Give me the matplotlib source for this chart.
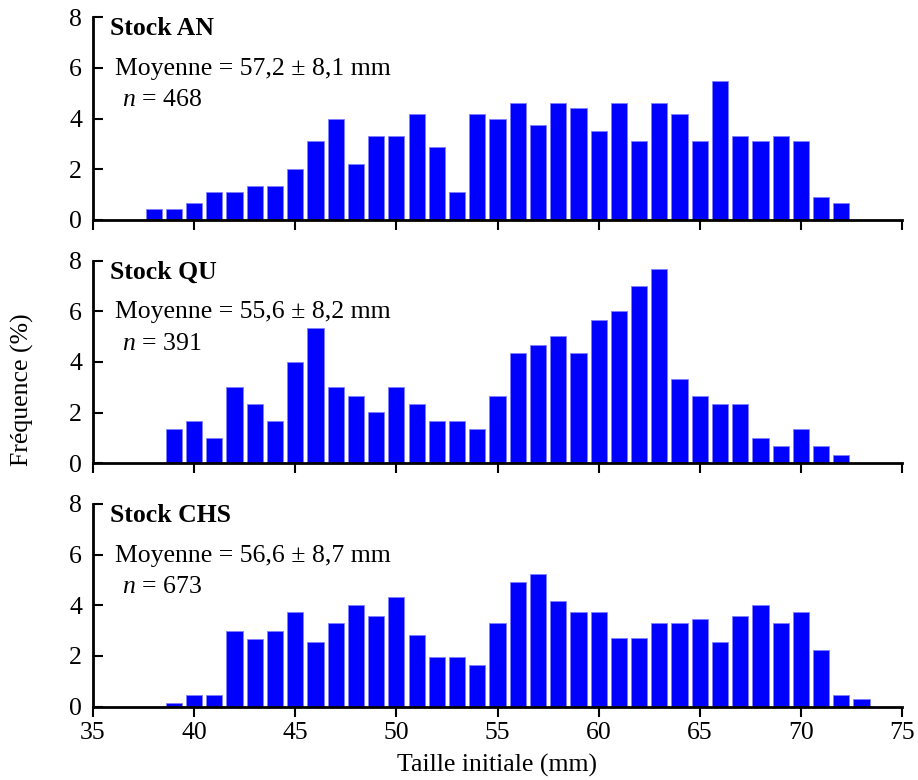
"""
Histogrammes de taille initiale pour trois stocks.
"""
import numpy as np
import matplotlib.pyplot as plt

plt.rcParams['font.family'] = ['Liberation Serif', 'DejaVu Serif']
plt.rcParams['mathtext.fontset'] = 'custom'
plt.rcParams['mathtext.it'] = 'Liberation Serif:italic'
plt.rcParams['mathtext.rm'] = 'Liberation Serif'

sizes_an = np.arange(38, 73)
freq_an = [0.45, 0.45, 0.67, 1.1, 1.1, 1.32, 1.32, 2.0, 3.1, 3.97, 2.2, 3.3,
           3.3, 4.18, 2.87, 1.1, 4.18, 3.97, 4.62, 3.74, 4.62, 4.4, 3.52, 4.62,
           3.1, 4.62, 4.19, 3.1, 5.5, 3.31, 3.1, 3.31, 3.1, 0.89, 0.67]

sizes_qu = np.arange(39, 73)
freq_qu = [1.34, 1.68, 1.01, 3.0, 2.33, 1.68, 4.01, 5.34, 3.0, 2.67, 2.01,
           3.0, 2.33, 1.68, 1.68, 1.34, 2.67, 4.34, 4.68, 5.01, 4.34, 5.67,
           6.0, 7.01, 7.68, 3.34, 2.67, 2.33, 2.33, 1.01, 0.68, 1.34, 0.68,
           0.34]

sizes_chs = np.arange(39, 74)
freq_chs = [0.16, 0.46, 0.46, 2.99, 2.68, 2.99, 3.74, 2.54, 3.29, 4.03, 3.59,
            4.33, 2.84, 1.95, 1.95, 1.64, 3.29, 4.93, 5.24, 4.18, 3.74, 3.74,
            2.7, 2.7, 3.29, 3.29, 3.45, 2.54, 3.59, 4.03, 3.29, 3.74, 2.25,
            0.46, 0.3]

stocks = ['AN', 'QU', 'CHS']
means = ['57,2 ± 8,1', '55,6 ± 8,2', '56,6 ± 8,7']
counts = [468, 391, 673]

panels = [(sizes_an, freq_an), (sizes_qu, freq_qu), (sizes_chs, freq_chs)]
bottoms = [0.718, 0.406, 0.094]
fs = 18.5

fig = plt.figure(figsize=(9.18, 7.8), dpi=100)

for i, (x, y) in enumerate(panels):
    ax = fig.add_axes([0.1013, bottoms[i], 0.8813, 0.26])
    ax.bar(x, y, width=0.8, color='#0000ff', edgecolor='#8080ff',
           linewidth=0.6, zorder=1)
    ax.set_xlim(35, 75)
    ax.set_ylim(0, 8)
    ax.set_yticks([0, 2, 4, 6, 8])
    ax.set_xticks(np.arange(35, 76, 5))
    for side in ['top', 'right']:
        ax.spines[side].set_visible(False)
    for side in ['left', 'bottom']:
        ax.spines[side].set_linewidth(2)
        ax.spines[side].set_zorder(3)
    ax.tick_params(axis='y', direction='in', length=7, width=1.5,
                   labelsize=fs, pad=8)
    ax.tick_params(axis='x', direction='out', length=7, width=1.5,
                   labelsize=fs, pad=4)
    if i < 2:
        ax.tick_params(axis='x', labelbottom=False)

    # annotations du panneau
    ax.text(35.84, 7.55, 'Stock ' + stocks[i], fontsize=fs,
            fontweight='bold', va='center', ha='left')
    ax.text(36.09, 5.95, 'Moyenne = ' + means[i] + ' mm', fontsize=fs,
            va='center', ha='left')
    ax.text(36.43, 4.72, r'$n$ = ' + str(counts[i]), fontsize=fs,
            va='center', ha='left')

fig.text(0.025, 0.5, 'Fréquence (%)', rotation=90, fontsize=fs,
         va='center', ha='center')
fig.text(0.541, 0.019, 'Taille initiale (mm)', fontsize=fs,
         va='center', ha='center')

fig.savefig('out.png', dpi=100)
